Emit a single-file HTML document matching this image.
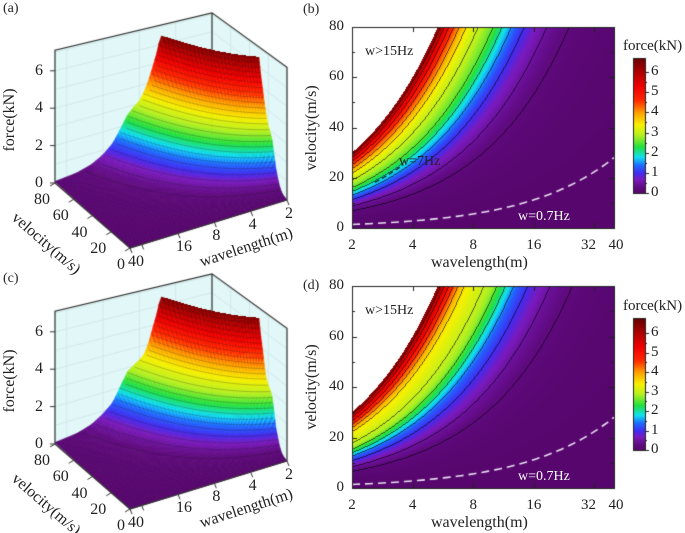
<!DOCTYPE html>
<html><head><meta charset="utf-8">
<style>
body{margin:0;background:#fff;}
#root{position:relative;width:685px;height:533px;overflow:hidden;font-family:"Liberation Serif",serif;color:#222;}
.t{position:absolute;font-size:15px;white-space:nowrap;line-height:1;}
.c{position:absolute;}
</style></head><body>
<div id="root">
<canvas id="ca" class="c" width="300" height="265" style="left:0;top:0"></canvas>
<canvas id="cc" class="c" width="300" height="272" style="left:0;top:261px"></canvas>
<canvas id="cb" class="c" width="385" height="265" style="left:300px;top:0"></canvas>
<canvas id="cd" class="c" width="385" height="268" style="left:300px;top:265px"></canvas>
</div>
<script>
const lambdaTicks=[2,4,8,16,32,40];
const velTicks=[0,20,40,60,80];
const forceTicks=[0,2,4,6];
const cbTicks=[0,1,2,3,4,5,6];
const freqGrid=[0,1,2,3,4,5,6,7,8,9,10,11,12,13,14,15];
const forceB=[0,0.03,0.08,0.18,0.4,0.75,1.2,1.9,2.55,2.9,3.15,3.6,4.2,4.9,5.6,6.5];
const forceD=[0,0.03,0.08,0.2,0.45,0.85,1.3,2.1,2.8,3.05,3.25,3.5,4.1,4.9,5.6,6.5];
const stops=[[0,[86,6,108]],[0.3,[96,10,128]],[0.7,[122,26,190]],[1.0,[64,44,240]],[1.4,[30,108,255]],[1.8,[16,224,240]],[2.3,[32,224,64]],[2.9,[184,240,32]],[3.4,[248,240,0]],[4.0,[255,160,0]],[4.6,[255,42,0]],[5.3,[240,0,0]],[6.0,[176,0,0]],[6.7,[106,0,0]]];
const root=document.getElementById('root');
function col(F){
  if(F<=stops[0][0])return stops[0][1];
  for(let i=1;i<stops.length;i++){if(F<=stops[i][0]){const a=stops[i-1],b=stops[i],t=(F-a[0])/(b[0]-a[0]);return a[1].map((c,k)=>Math.round(c+(b[1][k]-c)*t));}}
  return stops[stops.length-1][1];
}
function forceAt(p,f){
  if(f>15)return null;
  const i=Math.min(Math.floor(f),14),t=f-i;
  return p[i]+(p[i+1]-p[i])*t;
}
function label(txt,x,y,opts){
  const d=document.createElement('div');d.className='t';d.textContent=txt;
  d.style.left=x+'px';d.style.top=y+'px';
  if(opts){for(const k in opts)if(k!=='name')d.style[k]=opts[k];}
  
  
  root.appendChild(d);return d;
}
const L2=Math.log2(20);
function contour(id,prof,oy,cbTop,cbBot,cbZero,cbSix,tag,box){
  const cv=document.getElementById(id),ctx=cv.getContext('2d');
  const X0=52,X1=314,Y0=box.top,Y1=box.bot,W=X1-X0,H=Y1-Y0;
  const sx=l=>X0+Math.log2(l/2)/L2*W, sy=v=>Y1-v/80*H;
  const img=ctx.createImageData(W,H),F=[];
  for(let j=0;j<H;j++)for(let i=0;i<W;i++){
    const lam=2*Math.pow(2,(i+0.5)/W*L2),v=80*(1-(j+0.5)/H);
    F[j*W+i]=forceAt(prof,v/lam);
  }
  const lv=x=>x<0.5?Math.floor(x/0.25):Math.floor(x/0.5)+10;
  for(let j=0;j<H;j++)for(let i=0;i<W;i++){
    const k=j*W+i,f=F[k],p=k*4;let c;
    if(f===null)c=[255,255,255];else{
      c=col(f);
      const b=lv(f);
      const r=i+1<W?F[k+1]:f,d=j+1<H?F[k+W]:f;
      if((r!==null&&lv(r)!==b)||(d!==null&&lv(d)!==b))c=c.map(x=>Math.round(x*0.4));
    }
    img.data[p]=c[0];img.data[p+1]=c[1];img.data[p+2]=c[2];img.data[p+3]=255;
  }
  ctx.putImageData(img,X0,Y0);
  ctx.strokeStyle='#e8e0f0';ctx.lineWidth=1.6;ctx.setLineDash([8,5]);ctx.beginPath();
  for(let i=0;i<=60;i++){const l=2*Math.pow(20,i/60);const x=sx(l),y=sy(0.7*l);i?ctx.lineTo(x,y):ctx.moveTo(x,y);}
  ctx.stroke();
  if(tag==='b'){ctx.strokeStyle='#111';ctx.lineWidth=1.2;ctx.setLineDash([5,3]);ctx.beginPath();
    for(let i=0;i<=10;i++){const l=2.6+i*0.1;const x=sx(l),y=sy(7*l);i?ctx.lineTo(x,y):ctx.moveTo(x,y);}ctx.stroke();}
  ctx.setLineDash([]);
  ctx.strokeStyle='#222';ctx.lineWidth=1;ctx.strokeRect(X0+0.5,Y0+0.5,W,H);
  ctx.beginPath();
  lambdaTicks.forEach(l=>{const x=Math.round(sx(l))+0.5;ctx.moveTo(x,Y1);ctx.lineTo(x,Y1-5);ctx.moveTo(x,Y0);ctx.lineTo(x,Y0+5);});
  for(let v=0;v<=80;v+=10){const y=Math.round(sy(v))+0.5,len=v%20?3:5;ctx.moveTo(X0,y);ctx.lineTo(X0+len,y);ctx.moveTo(X1,y);ctx.lineTo(X1-len,y);}
  ctx.stroke();
  const cx=333,cw=12,ch=cbBot-cbTop;
  for(let y=0;y<ch;y++){const val=(cbZero-(cbTop+y))/(cbZero-cbSix)*6;const c=col(val);ctx.fillStyle='rgb('+c+')';ctx.fillRect(cx,cbTop+y,cw,1);}
  ctx.strokeStyle='#222';ctx.strokeRect(cx+0.5,cbTop+0.5,cw,ch);
  ctx.beginPath();
  for(let k=0;k<=12;k++){const y=Math.round(cbZero-(cbZero-cbSix)*k/12)+0.5;ctx.moveTo(cx+cw,y);ctx.lineTo(cx+cw+(k%2?2:4),y);}
  ctx.stroke();
  const px=300,py=oy;
  velTicks.forEach(v=>{label(String(v),px+X0-8,py+sy(v)-8,{textAlign:'right',width:'24px',marginLeft:'-24px',name:'y-tick-label'});});
  lambdaTicks.forEach(l=>{let x=px+sx(l);if(l===32)x-=6;if(l===40)x+=2;label(String(l),x-15,py+Y1+10,{width:'30px',textAlign:'center',name:'x-tick-label'});});
  label('wavelength(m)',px+X0+W/2-52,py+Y1+27,{fontSize:'16px',name:'x-axis-title'});
  label('velocity(m/s)',px+2,py+Y0+H/2,{fontSize:'16px',transform:'translate(-40px,-8px) rotate(-90deg)',transformOrigin:'50% 50%',width:'100px',textAlign:'center',name:'y-axis-title'});
  cbTicks.forEach(t=>{label(String(t),px+cx+cw+6,py+cbZero-(cbZero-cbSix)*t/6-8,{name:'colorbar-tick'});});
  label('force(kN)',px+323,py+cbTop-19,{fontSize:'15px',name:'colorbar-title'});
  label('w>15Hz',px+X0+13,py+Y0+18,{fontSize:'14px',name:'annotation-15hz'});
  if(tag==='b')label('w=7Hz',px+X0+47,py+sy(26)-8,{fontSize:'14px',name:'annotation-7hz'});
  label('w=0.7Hz',px+X0+166,py+Y1-18,{fontSize:'14px',color:'#fff',name:'annotation-0.7hz'});
}
contour('cb',forceB,0,58,193,193,72,'b',{top:27,bot:228});
contour('cd',forceD,265,53,185,185,68,'d',{top:21,bot:223});
function surface(id,prof,oy){
  const cv=document.getElementById(id),ctx=cv.getContext('2d');
  const P=(u,s,z)=>{const k=18.7-1.5*s*(1-u);return [287-157*u-75*s,200+48*u-65*s-z*k];};
  const ZT=7.1;
  ctx.fillStyle='#e2f8f8';
  let q=[P(1,1,0),P(0,1,0),P(0,1,ZT),P(1,1,ZT)];
  ctx.beginPath();q.forEach((p,i)=>i?ctx.lineTo(p[0],p[1]):ctx.moveTo(p[0],p[1]));ctx.fill();
  q=[P(0,1,0),P(0,0,0),P(0,0,ZT),P(0,1,ZT)];
  ctx.beginPath();q.forEach((p,i)=>i?ctx.lineTo(p[0],p[1]):ctx.moveTo(p[0],p[1]));ctx.fill();
  ctx.strokeStyle='#cfe4e4';ctx.lineWidth=0.8;ctx.beginPath();
  [1,2,3,4,5,6,7].forEach(z=>{let a=P(1,1,z),b=P(0,1,z),c=P(0,0,z);ctx.moveTo(a[0],a[1]);ctx.lineTo(b[0],b[1]);ctx.lineTo(c[0],c[1]);});
  lambdaTicks.forEach(l=>{const u=Math.log2(l/2)/L2;const a=P(u,1,0),b=P(u,1,ZT);ctx.moveTo(a[0],a[1]);ctx.lineTo(b[0],b[1]);});
  velTicks.forEach(v=>{const a=P(0,v/80,0),b=P(0,v/80,ZT);ctx.moveTo(a[0],a[1]);ctx.lineTo(b[0],b[1]);});
  ctx.stroke();
  ctx.strokeStyle='#333';ctx.lineWidth=1.2;ctx.beginPath();
  let e=[P(1,1,0),P(1,1,ZT),P(0,1,ZT),P(0,0,ZT),P(0,0,0)];
  e.forEach((p,i)=>i?ctx.lineTo(p[0],p[1]):ctx.moveTo(p[0],p[1]));
  let a1=P(0,1,0),a2=P(0,1,ZT);ctx.moveTo(a1[0],a1[1]);ctx.lineTo(a2[0],a2[1]);
  ctx.stroke();
  const N=80,cells=[];
  const corner=(u,s)=>{const l=2*Math.pow(20,u);let v=80*s;if(v/l>15){v=15*l;s=v/80;}return P(u,s,forceAt(prof,Math.min(v/l,15)));};
  for(let a=0;a<N;a++)for(let b=0;b<N;b++){
    const u0=a/N,u1=(a+1)/N,s0=b/N,s1=(b+1)/N;
    const lc=2*Math.pow(20,(u0+u1)/2);let vc=80*(s0+s1)/2;
    const fc=forceAt(prof,Math.min(vc/lc,15));
    cells.push({d:(s0+s1)/2+(1-(u0+u1)/2),pts:[corner(u0,s0),corner(u1,s0),corner(u1,s1),corner(u0,s1)],f:fc});
  }
  cells.sort((x,y)=>y.d-x.d);
  cells.forEach(c=>{const s='rgb('+col(c.f)+')';ctx.fillStyle=s;ctx.strokeStyle=s;ctx.lineWidth=0.7;
    ctx.beginPath();c.pts.forEach((p,i)=>i?ctx.lineTo(p[0],p[1]):ctx.moveTo(p[0],p[1]));ctx.closePath();ctx.fill();ctx.stroke();});
  ctx.strokeStyle='rgba(20,20,20,0.4)';ctx.lineWidth=0.6;
  for(let L=0.25;L<6.5;L+=0.25){
    let fL=null;for(let i=0;i<15;i++){if(prof[i]<=L&&prof[i+1]>L){fL=i+(L-prof[i])/(prof[i+1]-prof[i]);break;}}
    if(fL===null||fL<=0)continue;
    ctx.beginPath();let st=false;
    for(let i=0;i<=80;i++){const u=i/80,l=2*Math.pow(20,u),v=fL*l;if(v>80)break;const p=P(u,v/80,L);st?ctx.lineTo(p[0],p[1]):ctx.moveTo(p[0],p[1]);st=true;}
    ctx.stroke();
  }
  ctx.strokeStyle='#333';ctx.lineWidth=1.2;ctx.beginPath();
  e=[P(1,1,0),P(1,0,0),P(0,0,0)];e.forEach((p,i)=>i?ctx.lineTo(p[0],p[1]):ctx.moveTo(p[0],p[1]));
  ctx.stroke();
  ctx.lineWidth=1;ctx.beginPath();
  forceTicks.forEach(z=>{const p=P(1,1,z);ctx.moveTo(p[0],p[1]);ctx.lineTo(p[0]-5,p[1]);});
  velTicks.forEach(v=>{const p=P(1,v/80,0);ctx.moveTo(p[0],p[1]);ctx.lineTo(p[0]-5,p[1]+3);});
  lambdaTicks.forEach(l=>{const p=P(Math.log2(l/2)/L2,0,0);ctx.moveTo(p[0],p[1]);ctx.lineTo(p[0]+2,p[1]+5);});
  ctx.stroke();
  forceTicks.forEach(z=>{const p=P(1,1,z);label(String(z),p[0]-20,oy+p[1]-8,{fontSize:'16px',name:'z-tick-label'});});
  velTicks.forEach(v=>{const p=P(1,v/80,0);label(String(v),p[0]-27,oy+p[1]+9,{width:'22px',textAlign:'right',fontSize:'16px',name:'velocity-tick-label'});});
  lambdaTicks.filter(l=>l!==32).forEach(l=>{const p=P(Math.log2(l/2)/L2,0,0);label(String(l),p[0]-2,oy+p[1]+6,{fontSize:'16px',name:'wavelength-tick-label'});});
  label('force(kN)',-30,oy+112,{fontSize:'16px',transform:'rotate(-90deg)',width:'80px',textAlign:'center',name:'z-axis-title'});
  label('velocity(m/s)',3,oy+236,{fontSize:'16px',transform:'rotate(41deg)',name:'velocity-axis-title'});
  label('wavelength(m)',198,oy+240,{fontSize:'16px',transform:'rotate(-18deg)',name:'wavelength-axis-title'});
}
surface('ca',forceB,0);
surface('cc',forceD,261);
label('(a)',3,2,{fontSize:'14px',name:'panel-label-a'});
label('(b)',303,3,{fontSize:'14px',name:'panel-label-b'});
label('(c)',3,272,{fontSize:'14px',name:'panel-label-c'});
label('(d)',303,279,{fontSize:'14px',name:'panel-label-d'});
</script>
</body></html>
